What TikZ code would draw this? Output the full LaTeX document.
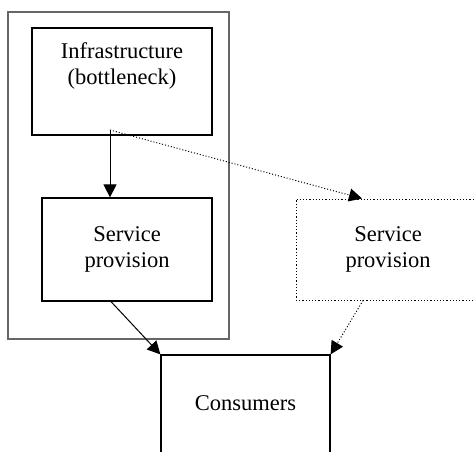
\documentclass[tikz,border=0pt]{standalone}
\usepackage{fontspec}
\setmainfont{Liberation Serif}
\usetikzlibrary{arrows.meta}

\tikzset{
	box/.style={draw, line width=1.2pt, inner sep=0pt, font=\fontsize{22.5}{26}\selectfont, align=center},
	arr/.style={line width=1pt, -{Triangle[length=13pt,width=13pt]}},
}

\begin{document}
\begin{tikzpicture}[x=1pt,y=-1pt]
	\useasboundingbox (0,0) rectangle (474,452);
	\clip (0,0) rectangle (474,452);
	\node[draw=black!60, line width=1.1pt, minimum width=221pt, minimum height=327pt] (firm) at (118.5,175.5) {};
	\node[box, minimum width=180pt, minimum height=107pt] (infra) at (122,81.5) {};
	\node[anchor=north, font=\fontsize{22.5}{26}\selectfont, align=center] (infratext) at (122,39) {Infrastructure\\(bottleneck)};
	\node[box, minimum width=170pt, minimum height=103pt] (svc) at (127,249.5) {Service\\provision};
	\node[box, dotted, line width=1pt, minimum width=184pt, minimum height=101pt] (svcx) at (388,249.5) {Service\\provision};
	\node[box, minimum width=169pt, minimum height=120pt] (cons) at (245.5,415) {};
	\node[font=\fontsize{22.5}{26}\selectfont] (constext) at (245.5,403) {Consumers};

	\coordinate (a) at (110,130);
	\draw[arr] (a) -- (svc.north -| a);
	\draw[arr, dotted] (a) -- (svcx.north -| 362,0);
	\draw[arr] (svc.south -| 111,0) -- (cons.north west);
	\draw[arr, dotted] (svcx.south -| 363,0) -- (cons.north east);
\end{tikzpicture}
\end{document}
